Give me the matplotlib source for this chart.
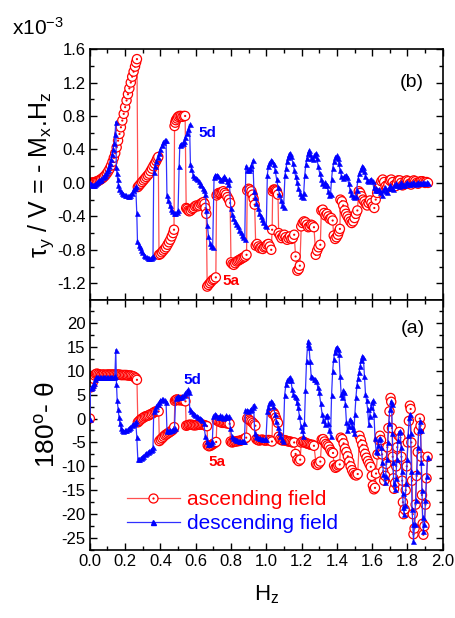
import matplotlib
matplotlib.use('Agg')
import matplotlib.pyplot as plt
from matplotlib.lines import Line2D
from matplotlib.ticker import MultipleLocator, FormatStrFormatter
import numpy as np

plt.rcParams['font.family'] = ['Liberation Sans', 'DejaVu Sans']
plt.rcParams['axes.unicode_minus'] = False
plt.rcParams['mathtext.fontset'] = 'custom'
plt.rcParams['mathtext.rm'] = 'Liberation Sans'
plt.rcParams['mathtext.it'] = 'Liberation Sans:italic'
plt.rcParams['mathtext.bf'] = 'Liberation Sans:bold'

# (H_z, tau_y/V) in units of 1e-3, ascending field -- panel (b)
asc_b = [
    (0.000, 0.000), (0.008, 0.002), (0.016, 0.004), (0.024, 0.008), (0.032, 0.012), (0.040, 0.018),
    (0.048, 0.025), (0.056, 0.033), (0.064, 0.045), (0.072, 0.057), (0.080, 0.072), (0.088, 0.090),
    (0.096, 0.112), (0.104, 0.138), (0.112, 0.168), (0.120, 0.205), (0.128, 0.250), (0.136, 0.300),
    (0.144, 0.355), (0.152, 0.425), (0.160, 0.505), (0.168, 0.585), (0.176, 0.665), (0.184, 0.745),
    (0.192, 0.825), (0.200, 0.905), (0.208, 0.985), (0.216, 1.060), (0.224, 1.130), (0.232, 1.200),
    (0.240, 1.270), (0.248, 1.330), (0.256, 1.390), (0.262, 1.440), (0.267, 1.480),
    (0.272, -0.05), (0.280, -0.03), (0.288, -0.01), (0.296, 0.01), (0.304, 0.03), (0.312, 0.05),
    (0.320, 0.07), (0.328, 0.09), (0.336, 0.11), (0.344, 0.14), (0.352, 0.17), (0.360, 0.20),
    (0.368, 0.23), (0.376, 0.26), (0.382, 0.29), (0.388, 0.31),
    (0.392, -0.86), (0.400, -0.85), (0.408, -0.83), (0.416, -0.81), (0.424, -0.79), (0.432, -0.77),
    (0.440, -0.74), (0.448, -0.71), (0.456, -0.68), (0.464, -0.64), (0.472, -0.60), (0.477, -0.56),
    (0.480, 0.68), (0.484, 0.72), (0.488, 0.75), (0.494, 0.77), (0.500, 0.79), (0.508, 0.80),
    (0.516, 0.80), (0.524, 0.79), (0.532, 0.80), (0.540, 0.80),
    (0.546, -0.30), (0.552, -0.31), (0.558, -0.33), (0.564, -0.34), (0.572, -0.33), (0.580, -0.31),
    (0.588, -0.30), (0.596, -0.28), (0.604, -0.27), (0.612, -0.28), (0.620, -0.27), (0.628, -0.25),
    (0.636, -0.24), (0.644, -0.23), (0.650, -0.25), (0.655, -0.30), (0.660, -0.37),
    (0.665, -1.24), (0.672, -1.22), (0.680, -1.20), (0.688, -1.18), (0.696, -1.16), (0.704, -1.15),
    (0.714, -1.13),
    (0.718, -0.15), (0.724, -0.13), (0.732, -0.12), (0.740, -0.12), (0.748, -0.11), (0.756, -0.10),
    (0.764, -0.12), (0.772, -0.14), (0.780, -0.17), (0.788, -0.20), (0.795, -0.24),
    (0.800, -0.95), (0.808, -0.97), (0.816, -0.98), (0.824, -0.96), (0.832, -0.94), (0.840, -0.93),
    (0.848, -0.92), (0.856, -0.91), (0.864, -0.90), (0.872, -0.89), (0.880, -0.88), (0.888, -0.86),
    (0.892, -0.09), (0.900, -0.07), (0.908, -0.08), (0.916, -0.10), (0.922, -0.14), (0.928, -0.19),
    (0.934, -0.26),
    (0.940, -0.75), (0.948, -0.73), (0.956, -0.76), (0.964, -0.78), (0.972, -0.77), (0.980, -0.79),
    (0.988, -0.77), (0.996, -0.76), (1.004, -0.74), (1.012, -0.73), (1.020, -0.76), (1.028, -0.80),
    (1.033, -0.56),
    (1.036, -0.10), (1.042, -0.08), (1.048, -0.08), (1.054, -0.09), (1.060, -0.10), (1.066, -0.14),
    (1.070, -0.60), (1.078, -0.63), (1.086, -0.66), (1.094, -0.64), (1.102, -0.62), (1.110, -0.65),
    (1.118, -0.68), (1.126, -0.66), (1.134, -0.64), (1.142, -0.67), (1.150, -0.66), (1.158, -0.62),
    (1.166, -0.88), (1.176, -1.05), (1.184, -1.03), (1.190, -0.99),
    (1.198, -0.52), (1.206, -0.48), (1.214, -0.46), (1.222, -0.47), (1.230, -0.50), (1.238, -0.53),
    (1.246, -0.52), (1.254, -0.50), (1.262, -0.51), (1.270, -0.53),
    (1.280, -0.86), (1.288, -0.81), (1.296, -0.77), (1.306, -0.74),
    (1.312, -0.33), (1.320, -0.32), (1.328, -0.36), (1.336, -0.39), (1.344, -0.37), (1.352, -0.40),
    (1.360, -0.43), (1.368, -0.42), (1.376, -0.45),
    (1.382, -0.63), (1.390, -0.67), (1.398, -0.65), (1.406, -0.62), (1.412, -0.58), (1.417, -0.55),
    (1.420, -0.20), (1.428, -0.22), (1.436, -0.27), (1.444, -0.33), (1.452, -0.37), (1.460, -0.40),
    (1.468, -0.43), (1.476, -0.46), (1.484, -0.48), (1.492, -0.46), (1.500, -0.42), (1.508, -0.37),
    (1.516, -0.33),
    (1.524, -0.10), (1.532, -0.12), (1.540, -0.16), (1.548, -0.20), (1.556, -0.22), (1.564, -0.25),
    (1.572, -0.27), (1.580, -0.24), (1.588, -0.21), (1.596, -0.24), (1.604, -0.28), (1.612, -0.30),
    (1.620, -0.20), (1.628, -0.12), (1.636, -0.06),
    (1.644, -0.02), (1.652, 0.02), (1.660, 0.04), (1.668, 0.01), (1.676, -0.04), (1.684, -0.06),
    (1.692, -0.02), (1.700, 0.03), (1.708, 0.04), (1.716, 0.01), (1.724, -0.03), (1.732, -0.04),
    (1.740, 0.00), (1.748, 0.03), (1.756, 0.03), (1.764, 0.00), (1.772, -0.03), (1.780, -0.02),
    (1.788, 0.02), (1.796, 0.03), (1.804, 0.02), (1.812, -0.01), (1.820, -0.02), (1.828, 0.01),
    (1.836, 0.03), (1.844, 0.02), (1.852, 0.00), (1.860, -0.01), (1.868, 0.01), (1.876, 0.02),
    (1.884, 0.02), (1.892, 0.01), (1.900, 0.00), (1.908, 0.01), (1.916, 0.00),
]

# descending field -- panel (b)
desc_b = [
    (0.000, 0.00), (0.006, -0.01), (0.012, -0.02), (0.018, -0.02), (0.024, -0.02), (0.030, -0.01),
    (0.036, 0.00), (0.042, 0.01), (0.048, 0.02), (0.054, 0.03), (0.060, 0.04), (0.066, 0.05),
    (0.072, 0.07), (0.078, 0.08), (0.084, 0.10), (0.090, 0.12), (0.096, 0.14), (0.102, 0.17),
    (0.108, 0.20), (0.114, 0.24), (0.120, 0.29), (0.126, 0.34), (0.132, 0.40), (0.138, 0.48),
    (0.143, 0.58), (0.147, 0.73),
    (0.150, 0.19), (0.153, 0.12), (0.157, 0.05), (0.162, -0.02), (0.168, -0.07), (0.175, -0.10),
    (0.182, -0.12), (0.190, -0.13), (0.198, -0.14), (0.206, -0.15), (0.214, -0.16), (0.222, -0.16),
    (0.230, -0.15), (0.238, -0.12), (0.246, -0.09), (0.254, -0.06), (0.260, -0.04),
    (0.266, -0.36), (0.270, -0.70), (0.276, -0.74), (0.282, -0.77), (0.290, -0.80), (0.298, -0.83),
    (0.306, -0.86), (0.314, -0.88), (0.322, -0.89), (0.330, -0.90), (0.338, -0.90), (0.346, -0.90),
    (0.354, -0.89), (0.358, -0.88),
    (0.362, 0.13), (0.368, 0.20), (0.376, 0.26), (0.384, 0.31), (0.392, 0.36), (0.400, 0.41),
    (0.408, 0.45), (0.416, 0.49), (0.424, 0.51), (0.432, 0.51),
    (0.437, -0.15), (0.444, -0.21), (0.452, -0.27), (0.460, -0.31), (0.468, -0.34), (0.476, -0.36),
    (0.484, -0.36), (0.492, -0.35), (0.500, -0.33),
    (0.506, 0.20), (0.510, 0.45), (0.518, 0.47), (0.526, 0.48), (0.534, 0.50), (0.542, 0.55),
    (0.550, 0.60), (0.558, 0.65), (0.565, 0.70),
    (0.570, 0.23), (0.576, 0.17), (0.584, 0.10), (0.592, 0.07), (0.600, 0.06), (0.608, 0.05),
    (0.616, 0.02), (0.624, -0.01), (0.632, -0.03), (0.640, -0.06), (0.648, -0.09), (0.654, -0.13),
    (0.660, -0.32), (0.666, -0.50), (0.672, -0.63), (0.680, -0.72), (0.688, -0.76), (0.696, -0.77),
    (0.704, 0.07), (0.712, 0.10), (0.720, 0.10), (0.728, 0.08), (0.736, 0.05), (0.744, 0.03),
    (0.752, 0.06), (0.760, 0.08), (0.768, 0.06), (0.776, 0.02), (0.784, -0.01), (0.790, 0.05),
    (0.798, -0.30), (0.806, -0.37), (0.814, -0.42), (0.822, -0.46), (0.830, -0.49), (0.838, -0.52),
    (0.846, -0.56), (0.854, -0.59), (0.862, -0.62), (0.870, -0.65), (0.878, -0.67),
    (0.884, 0.20), (0.892, 0.16), (0.900, 0.15), (0.908, 0.18), (0.916, 0.21), (0.924, 0.27),
    (0.930, -0.10), (0.936, -0.17), (0.944, -0.24), (0.952, -0.30), (0.960, -0.36), (0.968, -0.40),
    (0.976, -0.43), (0.984, -0.47), (0.992, -0.50), (1.000, -0.52),
    (1.006, 0.10), (1.012, 0.20), (1.018, 0.24), (1.026, 0.27), (1.034, 0.26), (1.042, 0.22),
    (1.050, 0.15), (1.058, 0.05), (1.066, -0.05), (1.074, -0.13), (1.082, -0.20), (1.090, -0.26),
    (1.098, -0.29),
    (1.106, 0.10), (1.112, 0.18), (1.118, 0.26), (1.124, 0.31), (1.130, 0.35), (1.136, 0.36),
    (1.142, 0.32), (1.150, 0.24), (1.158, 0.16), (1.166, 0.08), (1.174, 0.01), (1.182, -0.06),
    (1.190, -0.12), (1.198, -0.16), (1.206, -0.17), (1.212, -0.12),
    (1.218, 0.10), (1.224, 0.22), (1.230, 0.30), (1.236, 0.36), (1.242, 0.39), (1.248, 0.35),
    (1.256, 0.30), (1.264, 0.29), (1.272, 0.33), (1.280, 0.36), (1.286, 0.30), (1.294, 0.20),
    (1.302, 0.12), (1.310, 0.05), (1.318, 0.00), (1.326, -0.02), (1.334, 0.01), (1.342, -0.02),
    (1.350, -0.10), (1.358, -0.15), (1.364, -0.13),
    (1.370, 0.05), (1.376, 0.18), (1.384, 0.26), (1.392, 0.31), (1.398, 0.33), (1.404, 0.30),
    (1.410, 0.24), (1.418, 0.15), (1.426, 0.08), (1.434, 0.06), (1.442, 0.08), (1.450, 0.10),
    (1.458, 0.07), (1.466, 0.00), (1.474, -0.08), (1.482, -0.13), (1.490, -0.16), (1.498, -0.17),
    (1.506, -0.16), (1.512, -0.08),
    (1.520, 0.05), (1.528, 0.12), (1.536, 0.17), (1.544, 0.20), (1.550, 0.19), (1.556, 0.14),
    (1.562, 0.08), (1.570, 0.04), (1.578, 0.02), (1.586, 0.04), (1.594, 0.05), (1.602, 0.02),
    (1.608, -0.05), (1.614, -0.08), (1.622, -0.06), (1.630, -0.09), (1.638, -0.07), (1.646, -0.11),
    (1.654, -0.14), (1.662, -0.09), (1.670, -0.05), (1.678, -0.10), (1.686, -0.11), (1.694, -0.06),
    (1.702, -0.02), (1.710, -0.06), (1.718, -0.07), (1.726, -0.03), (1.734, 0.00), (1.742, -0.03),
    (1.750, -0.04), (1.758, -0.01), (1.766, 0.01), (1.774, -0.02), (1.782, -0.02), (1.790, 0.00),
    (1.798, 0.01), (1.806, -0.01), (1.814, -0.01), (1.822, 0.00), (1.830, 0.01), (1.838, 0.00),
    (1.846, -0.01), (1.854, 0.00), (1.862, 0.01), (1.870, 0.00), (1.878, 0.00), (1.886, 0.01),
    (1.894, 0.00), (1.902, 0.00), (1.910, 0.01), (1.918, 0.00),
]

# (H_z, 180 - theta) in degrees, ascending field -- panel (a)
asc_a = [
    (0.000, 0.0), (0.004, 6.5), (0.010, 7.0), (0.016, 7.5), (0.022, 8.3), (0.028, 9.0), (0.034, 9.3),
    (0.040, 9.4), (0.048, 9.3), (0.056, 9.2), (0.064, 9.1), (0.072, 9.2), (0.080, 9.2), (0.088, 9.1),
    (0.096, 9.2), (0.104, 9.2), (0.112, 9.2), (0.120, 9.2), (0.128, 9.2), (0.136, 9.2), (0.144, 9.2),
    (0.152, 9.2), (0.160, 9.2), (0.168, 9.2), (0.176, 9.1), (0.184, 9.1), (0.192, 9.1), (0.200, 9.1),
    (0.208, 9.1), (0.216, 9.0), (0.224, 9.0), (0.232, 9.0), (0.240, 8.9), (0.248, 8.8), (0.256, 8.6),
    (0.262, 8.4), (0.267, 8.1),
    (0.272, -0.8), (0.280, -0.5), (0.288, -0.2), (0.296, 0.0), (0.304, 0.2), (0.312, 0.4), (0.320, 0.5),
    (0.328, 0.6), (0.336, 0.7), (0.344, 0.9), (0.352, 1.0), (0.360, 1.2), (0.368, 1.4), (0.376, 1.5),
    (0.384, 1.6), (0.390, 1.5),
    (0.394, -4.7), (0.402, -4.4), (0.410, -4.1), (0.418, -3.8), (0.426, -3.5), (0.434, -3.3),
    (0.442, -3.1), (0.450, -2.9), (0.458, -2.7), (0.466, -2.5), (0.474, -2.2), (0.478, -1.8),
    (0.482, 3.7), (0.488, 3.9), (0.494, 4.0), (0.502, 3.9), (0.510, 3.8), (0.518, 3.9), (0.526, 3.8),
    (0.534, 3.7), (0.542, 3.6),
    (0.546, -1.5), (0.554, -1.4), (0.562, -1.3), (0.570, -1.3), (0.578, -1.3), (0.586, -1.4),
    (0.594, -1.4), (0.602, -1.4), (0.610, -1.3), (0.618, -1.3), (0.626, -1.3), (0.634, -1.3),
    (0.642, -1.3), (0.650, -1.4), (0.658, -1.5), (0.664, -1.6),
    (0.668, -5.6), (0.676, -5.8), (0.684, -5.7), (0.692, -5.5), (0.700, -5.3), (0.708, -5.1),
    (0.716, -4.9),
    (0.720, -0.4), (0.728, -0.5), (0.736, -0.7), (0.744, -0.8), (0.752, -0.9), (0.760, -0.9),
    (0.768, -0.9), (0.776, -1.0), (0.784, -1.0), (0.792, -1.1),
    (0.798, -4.8), (0.806, -5.0), (0.814, -4.9), (0.822, -4.8), (0.830, -4.8), (0.838, -4.7),
    (0.846, -4.7), (0.854, -4.6), (0.862, -4.5), (0.870, -4.4), (0.878, -4.2), (0.886, -4.0),
    (0.892, 0.0), (0.900, -0.2), (0.908, -0.4), (0.916, -0.6), (0.924, -0.9), (0.932, -1.2),
    (0.938, -1.5),
    (0.944, -4.3), (0.952, -4.5), (0.960, -4.6), (0.968, -4.5), (0.976, -4.4), (0.984, -4.5),
    (0.992, -4.6), (1.000, -4.6), (1.008, -4.5), (1.016, -4.5), (1.024, -4.6), (1.032, -4.8),
    (1.036, 1.0), (1.042, 1.2), (1.048, 0.8), (1.054, 0.2), (1.060, -0.4), (1.066, -0.9),
    (1.070, -3.8), (1.078, -4.3), (1.086, -4.5), (1.094, -4.6), (1.102, -4.5), (1.110, -4.6),
    (1.118, -4.7), (1.126, -4.8), (1.134, -4.8), (1.142, -4.9), (1.150, -5.0), (1.158, -5.0),
    (1.166, -7.4), (1.176, -8.6), (1.184, -8.9), (1.192, -8.6),
    (1.198, -5.0), (1.206, -4.8), (1.214, -4.9), (1.222, -5.1), (1.230, -5.2), (1.238, -5.3),
    (1.246, -5.4), (1.254, -5.5), (1.262, -5.5), (1.270, -5.7),
    (1.282, -9.5), (1.290, -9.7), (1.298, -9.4), (1.306, -9.0),
    (1.314, -4.4), (1.322, -4.3), (1.330, -4.8), (1.338, -5.3), (1.346, -5.6), (1.354, -5.9),
    (1.362, -6.5), (1.370, -7.0), (1.378, -7.2),
    (1.384, -9.8), (1.392, -10.3), (1.400, -10.1), (1.408, -9.8), (1.416, -9.6),
    (1.422, -4.0), (1.430, -4.3), (1.438, -5.2), (1.446, -6.3), (1.454, -7.0), (1.462, -7.9),
    (1.470, -9.0), (1.478, -10.0), (1.486, -10.8), (1.494, -11.4), (1.502, -11.8), (1.510, -11.9),
    (1.518, -11.6),
    (1.528, -3.6), (1.536, -4.5), (1.544, -5.5), (1.552, -6.5), (1.560, -7.4), (1.568, -8.2),
    (1.576, -8.9), (1.584, -9.5), (1.592, -10.1), (1.598, -12.0), (1.604, -14.0), (1.610, -14.8),
    (1.616, -14.5), (1.622, -11.5),
    (1.630, -7.5), (1.638, -4.5), (1.644, -3.6), (1.650, -4.5), (1.656, -7.5), (1.662, -11.0),
    (1.668, -13.0), (1.674, -12.0), (1.680, -9.5), (1.686, -6.0), (1.692, -2.0), (1.698, 1.5),
    (1.704, 4.3), (1.708, 3.5), (1.712, -2.0), (1.716, -8.0), (1.720, -12.5), (1.724, -14.7),
    (1.730, -13.5), (1.736, -10.0), (1.742, -6.0), (1.748, -3.5), (1.754, -2.8), (1.760, -4.0),
    (1.766, -8.0), (1.770, -13.0), (1.774, -17.5), (1.778, -20.0), (1.784, -19.0), (1.790, -15.0),
    (1.796, -10.0), (1.802, -5.0), (1.808, -0.5), (1.814, 2.7), (1.818, 2.0), (1.822, -5.0),
    (1.826, -13.0), (1.830, -20.0), (1.834, -24.2), (1.840, -23.0), (1.846, -18.0), (1.852, -12.0),
    (1.858, -7.0), (1.864, -2.5), (1.870, 0.0), (1.874, -1.5), (1.878, -8.0), (1.882, -16.0),
    (1.886, -22.0), (1.890, -24.3), (1.896, -22.5), (1.902, -18.0), (1.908, -12.5), (1.914, -8.0),
]

# descending field -- panel (a)
desc_a = [
    (0.000, 0.0), (0.004, 6.3), (0.010, 6.7), (0.016, 7.0), (0.022, 7.5), (0.028, 8.2), (0.034, 8.6),
    (0.040, 8.7), (0.048, 8.6), (0.056, 8.6), (0.064, 8.6), (0.072, 8.7), (0.080, 8.6), (0.088, 8.6),
    (0.096, 8.7), (0.104, 8.7), (0.112, 8.6), (0.120, 8.7), (0.128, 8.7), (0.136, 8.7), (0.142, 9.0),
    (0.147, 14.4), (0.151, 7.2), (0.155, 3.8), (0.160, 2.0), (0.165, 0.4), (0.170, -1.0),
    (0.176, -2.0), (0.182, -2.5), (0.190, -2.6), (0.198, -2.5), (0.206, -2.4), (0.214, -2.2),
    (0.222, -2.0), (0.230, -1.7), (0.238, -1.4), (0.246, -1.1), (0.254, -0.9), (0.260, -0.6),
    (0.266, -3.8), (0.272, -8.5), (0.280, -8.4), (0.288, -8.2), (0.296, -8.0), (0.304, -7.8),
    (0.312, -7.5), (0.320, -7.3), (0.328, -7.0), (0.336, -6.8), (0.344, -6.6), (0.352, -6.3),
    (0.358, -6.0),
    (0.362, 1.5), (0.368, 2.0), (0.376, 2.6), (0.384, 3.1), (0.392, 3.5), (0.400, 3.8), (0.408, 4.0),
    (0.416, 4.0), (0.424, 3.8), (0.432, 3.4),
    (0.437, -2.3), (0.440, -2.6), (0.448, -2.6), (0.456, -2.5), (0.464, -2.4), (0.472, -2.2),
    (0.480, -2.0),
    (0.486, 4.3), (0.492, 4.6), (0.500, 4.7), (0.508, 4.6), (0.516, 4.5), (0.524, 4.7), (0.532, 5.0),
    (0.540, 5.4), (0.548, 5.8), (0.556, 6.1), (0.562, 5.5),
    (0.566, 2.0), (0.574, 1.6), (0.582, 1.2), (0.590, 0.9), (0.598, 0.7), (0.606, 0.5), (0.614, 0.3),
    (0.622, 0.2), (0.630, 0.0), (0.638, -0.3), (0.646, -1.0), (0.654, -3.6), (0.662, -4.8),
    (0.670, -5.3), (0.678, -5.4), (0.686, -5.1), (0.694, -4.8),
    (0.700, 0.5), (0.708, 1.0), (0.716, 0.7), (0.724, 0.3), (0.732, 0.4), (0.740, 0.7), (0.748, 0.5),
    (0.756, 0.2), (0.764, 0.4), (0.772, 0.7), (0.780, 0.4), (0.788, 0.6),
    (0.796, -2.0), (0.804, -3.6), (0.812, -4.0), (0.820, -4.2), (0.828, -4.4), (0.836, -4.5),
    (0.844, -4.6), (0.852, -4.6), (0.860, -4.7), (0.868, -4.8), (0.876, -4.8),
    (0.882, 1.7), (0.890, 1.8), (0.898, 1.6), (0.906, 1.7), (0.914, 2.1), (0.922, 2.5), (0.928, 2.9),
    (0.934, -3.0), (0.942, -3.6), (0.950, -3.8), (0.958, -4.0), (0.966, -4.1), (0.974, -4.2),
    (0.982, -4.2), (0.990, -4.3), (0.998, -4.3),
    (1.006, 1.5), (1.012, 2.5), (1.018, 3.2), (1.026, 3.6), (1.034, 3.4), (1.040, 2.6), (1.048, 1.0),
    (1.056, -0.5), (1.064, -1.8), (1.072, -2.8), (1.080, -3.6), (1.088, -4.2), (1.096, -4.6),
    (1.104, 5.0), (1.112, 7.3), (1.120, 8.0), (1.128, 8.5), (1.134, 8.7), (1.140, 8.0), (1.146, 6.2),
    (1.152, 5.2), (1.160, 4.8), (1.166, 4.6), (1.172, 3.5), (1.180, 2.4), (1.188, 0.5), (1.196, -1.5),
    (1.204, -2.5), (1.210, -3.6), (1.216, -1.0),
    (1.222, 6.0), (1.228, 12.0), (1.234, 15.5), (1.238, 16.3), (1.242, 15.0), (1.248, 12.0),
    (1.254, 9.0), (1.260, 8.7), (1.268, 8.3), (1.276, 8.3), (1.284, 7.9), (1.292, 6.5), (1.300, 5.5),
    (1.308, 3.2), (1.316, 1.0), (1.324, -0.4), (1.332, -1.2), (1.340, 0.6), (1.346, 0.8),
    (1.352, -1.0), (1.358, -2.5), (1.364, -3.6),
    (1.370, 5.0), (1.376, 10.0), (1.382, 12.5), (1.388, 14.0), (1.394, 14.8), (1.400, 15.0),
    (1.406, 14.6), (1.412, 13.5), (1.418, 9.0), (1.424, 5.2), (1.430, 4.5), (1.436, 6.0),
    (1.442, 5.6), (1.448, 3.0), (1.454, -0.8), (1.460, -2.4), (1.466, -1.5), (1.472, -0.1),
    (1.478, -0.5), (1.484, -1.5), (1.490, -2.2), (1.496, -3.0),
    (1.502, 1.0), (1.508, 4.5), (1.514, 7.0), (1.520, 8.5), (1.526, 9.7), (1.532, 11.0),
    (1.538, 12.3), (1.544, 13.0), (1.550, 12.8), (1.556, 9.0), (1.562, 5.2), (1.568, 3.8),
    (1.574, 2.0), (1.580, -1.1), (1.586, 0.5), (1.592, 2.5), (1.598, 3.4), (1.604, 3.8),
    (1.610, 1.0), (1.616, -4.0), (1.622, -6.7), (1.628, -7.0), (1.634, -5.5), (1.640, -4.2),
    (1.646, -4.0), (1.652, -6.0), (1.658, -9.0), (1.664, -11.5), (1.670, -13.2), (1.676, -12.0),
    (1.682, -8.5), (1.688, -5.0), (1.694, -1.0), (1.700, 2.0), (1.706, 3.6), (1.710, 3.0),
    (1.714, -3.0), (1.718, -9.0), (1.722, -13.5), (1.728, -14.8), (1.734, -12.5), (1.740, -8.5),
    (1.746, -4.5), (1.752, -2.8), (1.758, -2.7), (1.764, -6.0), (1.768, -11.0), (1.772, -15.5),
    (1.776, -18.5), (1.780, -20.0), (1.786, -18.0), (1.792, -13.5), (1.798, -8.5), (1.804, -3.5),
    (1.810, 0.3), (1.814, 1.0), (1.818, -3.0), (1.822, -11.0), (1.826, -19.0), (1.830, -22.0),
    (1.834, -25.7), (1.840, -22.0), (1.846, -17.0), (1.852, -11.0), (1.858, -6.0), (1.864, -2.5),
    (1.870, -0.5), (1.874, -2.5), (1.878, -9.0), (1.882, -15.0), (1.886, -20.5), (1.890, -23.5),
    (1.896, -22.0), (1.902, -17.0), (1.908, -12.0), (1.914, -8.0),
]

series_labels = ['ascending field', 'descending field']

RED = '#ff0000'
RED_LINE = '#ff5050'
BLUE = '#0000ff'
BLUE_LINE = '#3030ff'


def draw_ascending(ax, pts):
    h, v = np.array(pts).T
    ax.plot(h, v, color=RED_LINE, lw=0.9, zorder=1)
    # circle then centre dot for each point, in order, so later circles cover earlier dots
    n = len(h)
    ax.scatter(np.repeat(h, 2), np.repeat(v, 2), s=np.tile([44, 2.5], n),
               facecolors=['white', RED] * n, edgecolors=RED,
               linewidths=np.tile([0.9, 0.0], n), zorder=2)


def draw_descending(ax, pts):
    h, v = np.array(pts).T
    ax.plot(h, v, color=BLUE_LINE, lw=0.9, marker='^', ms=3.6,
            mfc=BLUE, mec=BLUE, mew=0.4, zorder=3)


def style_axes(ax, ymaj, ymin):
    ax.set_xlim(0, 2.0)
    ax.xaxis.set_major_locator(MultipleLocator(0.2))
    ax.xaxis.set_minor_locator(MultipleLocator(0.1))
    ax.yaxis.set_major_locator(MultipleLocator(ymaj))
    ax.yaxis.set_minor_locator(MultipleLocator(ymin))
    ax.tick_params(which='both', direction='in', top=True, right=True,
                   labelsize=12, width=1.0, pad=3)
    ax.tick_params(which='major', length=5)
    ax.tick_params(which='minor', length=3)
    for sp in ax.spines.values():
        sp.set_linewidth(1.2)


fig = plt.figure(figsize=(4.56, 6.18), dpi=100)
ax_b = fig.add_axes([0.197, 0.5146, 0.774, 0.406])
ax_a = fig.add_axes([0.197, 0.110, 0.774, 0.4046])

# panel (b)
draw_ascending(ax_b, asc_b)
draw_descending(ax_b, desc_b)
style_axes(ax_b, 0.4, 0.2)
ax_b.set_ylim(-1.4, 1.6)
ax_b.yaxis.set_major_formatter(FormatStrFormatter('%.1f'))
ax_b.tick_params(labelbottom=False)
ax_b.set_ylabel('τ$_\\mathrm{y}$ / V = - M$_\\mathrm{x}$.H$_\\mathrm{z}$', fontsize=18, labelpad=1)
ax_b.text(1.827, 1.2, '(b)', fontsize=14, ha='center', va='center')
ax_b.text(0.668, 0.60, '5d', fontsize=11, fontweight='bold', color=BLUE, ha='center', va='center')
ax_b.text(0.80, -1.17, '5a', fontsize=11, fontweight='bold', color=RED, ha='center', va='center')
fig.text(0.027, 0.943, 'x10$^\\mathrm{-3}$', fontsize=15, va='baseline')

# panel (a)
draw_ascending(ax_a, asc_a)
draw_descending(ax_a, desc_a)
style_axes(ax_a, 5, 2.5)
ax_a.set_ylim(-27.5, 24.8)
ax_a.yaxis.set_major_formatter(FormatStrFormatter('%d'))
ax_a.xaxis.set_major_formatter(FormatStrFormatter('%.1f'))
ax_a.set_ylabel('180$^\\mathrm{o}$- θ', fontsize=19, labelpad=1)
ax_a.set_xlabel('H$_\\mathrm{z}$', fontsize=16, labelpad=10)
ax_a.text(1.83, 18.8, '(a)', fontsize=14, ha='center', va='center')
ax_a.text(0.58, 8.0, '5d', fontsize=11, fontweight='bold', color=BLUE, ha='center', va='center')
ax_a.text(0.722, -9.0, '5a', fontsize=11, fontweight='bold', color=RED, ha='center', va='center')

h_asc = (Line2D([], [], color=RED_LINE, lw=0.9, marker='o', ms=6.5, mfc='white', mec=RED, mew=0.9),
         Line2D([], [], ls='none', marker='o', ms=1.6, mfc=RED, mec=RED, mew=0))
h_desc = Line2D([], [], color=BLUE_LINE, lw=0.9, marker='^', ms=3.6, mfc=BLUE, mec=BLUE)
leg = ax_a.legend([h_asc, h_desc], series_labels, loc='lower left',
                  bbox_to_anchor=(0.105, 0.068), frameon=False, fontsize=15,
                  handlelength=2.55, handletextpad=0.35, labelspacing=0.25,
                  borderpad=0, borderaxespad=0)
for txt, col in zip(leg.get_texts(), [RED, BLUE]):
    txt.set_color(col)

fig.savefig('out.png', dpi=100)
